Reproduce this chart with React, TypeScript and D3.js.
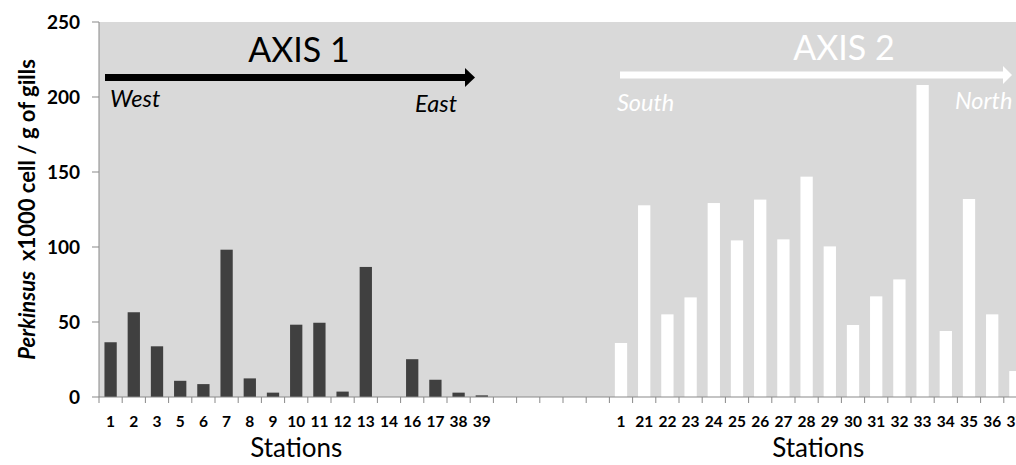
import React from "react";
import * as d3 from "d3";

// ---- data ----
const axis1Stations = ["1", "2", "3", "5", "6", "7", "8", "9", "10", "11", "12", "13", "14", "16", "17", "38", "39"];
const axis1Values = [36.5, 56.5, 33.8, 10.8, 8.6, 98.2, 12.4, 2.9, 48.2, 49.5, 3.6, 86.7, 0, 25.2, 11.5, 2.9, 1.1];
const gapCount = 5;
const axis2Stations = ["1", "21", "22", "23", "24", "25", "26", "27", "28", "29", "30", "31", "32", "33", "34", "35", "36", "37"];
const axis2Values = [36, 127.8, 55.1, 66.4, 129.3, 104.4, 131.6, 105.1, 146.9, 100.4, 48, 67.1, 78.4, 208, 44, 132, 55.1, 17.3];
const yTicks = [0, 50, 100, 150, 200, 250];

const FONT = "Lato, 'Open Sans', sans-serif";

type Cat = { key: string; label: string; value: number | null; group: number };

const cats: Cat[] = [
  ...axis1Stations.map((s, i) => ({ key: `a1-${i}`, label: s, value: axis1Values[i], group: 1 })),
  ...d3.range(gapCount).map((i) => ({ key: `gap-${i}`, label: "", value: null, group: 0 })),
  ...axis2Stations.map((s, i) => ({ key: `a2-${i}`, label: s, value: axis2Values[i], group: 2 })),
];

export default function App() {
  const W = 1016;
  const H = 465;
  const left = 99;
  const top = 22;
  const bottom = 397;
  const step = 23.2;
  const right = left + cats.length * step;

  const x = d3
    .scaleBand<string>()
    .domain(cats.map((c) => c.key))
    .range([left, right])
    .paddingInner(0.47)
    .paddingOuter(0.235);
  const y = d3.scaleLinear().domain([0, 250]).range([bottom, top]);

  const bw = x.bandwidth();
  const stepX = x.step();
  const boundaries = d3.range(cats.length + 1).map((i) => left + i * stepX);

  const g1 = cats.filter((c) => c.group === 1);
  const g2 = cats.filter((c) => c.group === 2);
  const center = (arr: Cat[]) =>
    ((x(arr[0].key) as number) + (x(arr[arr.length - 1].key) as number) + bw) / 2;
  const c1 = center(g1);
  const c2 = center(g2);

  const axisColor = "#898989";

  return (
    <svg
      width={W}
      height={H}
      style={{ position: "absolute", left: 0, top: 0, background: "#fff" }}
      fontFamily={FONT}
    >
      {/* plot background */}
      <rect x={left} y={top} width={right - left} height={bottom - top} fill="#d9d9d9" />

      {/* bars */}
      {cats
        .filter((c) => c.value !== null && (c.value as number) > 0)
        .map((c) => (
          <rect
            key={c.key}
            x={x(c.key)}
            y={y(c.value as number)}
            width={bw}
            height={bottom - y(c.value as number)}
            fill={c.group === 1 ? "#404040" : "#ffffff"}
          />
        ))}

      {/* y axis */}
      <line x1={left} x2={left} y1={top} y2={bottom} stroke={axisColor} strokeWidth={1} />
      {yTicks.map((t) => (
        <g key={t}>
          <line x1={left - 7} x2={left} y1={y(t)} y2={y(t)} stroke={axisColor} strokeWidth={1} />
          <text
            x={80}
            y={y(t)}
            dy="0.36em"
            textAnchor="end"
            fontSize={19}
            fontWeight="bold"
            fill="#000"
          >
            {t}
          </text>
        </g>
      ))}

      {/* x axis */}
      <line x1={left} x2={right} y1={bottom} y2={bottom} stroke={axisColor} strokeWidth={1} />
      {boundaries.map((b, i) => (
        <line key={i} x1={b} x2={b} y1={bottom} y2={bottom + 6} stroke={axisColor} strokeWidth={1} />
      ))}
      {cats.map((c) =>
        c.label ? (
          <text
            key={c.key}
            x={(x(c.key) as number) + bw / 2}
            y={427}
            textAnchor="middle"
            fontSize={15.5}
            fontWeight="bold"
            fill="#000"
          >
            {c.label}
          </text>
        ) : null
      )}

      {/* x axis titles */}
      <text x={c1} y={457} textAnchor="middle" fontSize={26} fill="#000">
        Stations
      </text>
      <text x={c2} y={457} textAnchor="middle" fontSize={26} fill="#000">
        Stations
      </text>

      {/* y axis title */}
      <text
        transform={`translate(35,${(top + bottom) / 2}) rotate(-90)`}
        textAnchor="middle"
        fontSize={22}
        fontWeight="bold"
        fill="#000"
      >
        <tspan fontStyle="italic">Perkinsus</tspan>
        <tspan dx={10}>x1000 cell / g of gills</tspan>
      </text>

      {/* AXIS 1 annotation */}
      <text x={299} y={62} textAnchor="middle" fontSize={34} fill="#000">
        AXIS 1
      </text>
      <rect x={105} y={74} width={362} height={7} fill="#000" />
      <path d="M465,68 L475,77.5 L465,87 Z" fill="#000" />
      <text x={110} y={107} fontSize={23.5} fontStyle="italic" fill="#000">
        West
      </text>
      <text x={457} y={112} textAnchor="end" fontSize={23.5} fontStyle="italic" fill="#000">
        East
      </text>

      {/* AXIS 2 annotation */}
      <text x={844} y={60} textAnchor="middle" fontSize={34} fill="#fff">
        AXIS 2
      </text>
      <rect x={620} y={71.5} width={385} height={7} fill="#fff" />
      <path d="M1003,66 L1012,75 L1003,84 Z" fill="#fff" />
      <text x={617} y={111} fontSize={23.5} fontStyle="italic" fill="#fff">
        South
      </text>
      <text x={955} y={109} fontSize={23.5} fontStyle="italic" fill="#fff">
        North
      </text>
    </svg>
  );
}
